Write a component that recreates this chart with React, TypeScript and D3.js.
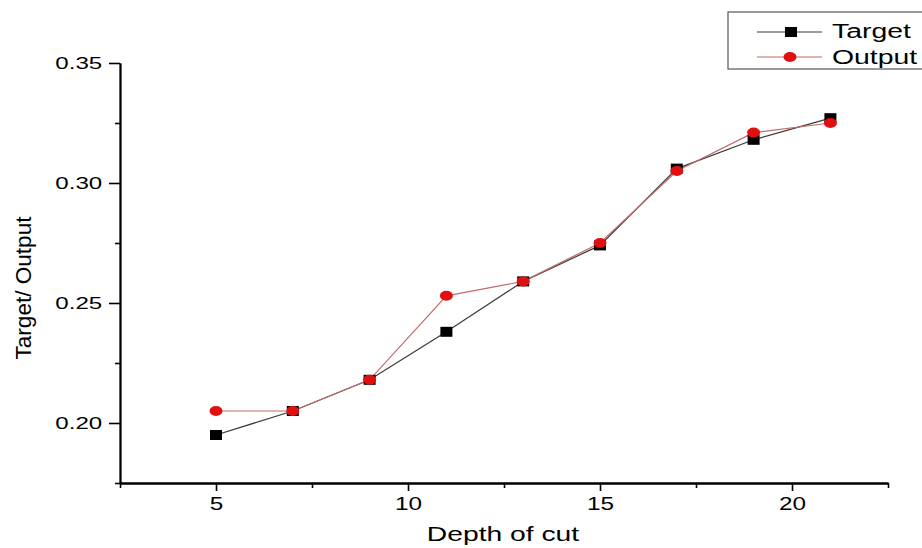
import React, { useRef, useEffect } from 'react';
import * as d3 from 'd3';

// Depth of cut values (x)
const depths = [5, 7, 9, 11, 13, 15, 17, 19, 21];
// Target and network output (y)
const targetValues = [0.195, 0.205, 0.218, 0.238, 0.259, 0.274, 0.306, 0.318, 0.327];
const outputValues = [0.205, 0.205, 0.218, 0.253, 0.259, 0.275, 0.305, 0.321, 0.325];

const xMajorTicks = [5, 10, 15, 20];
const xMinorTicks = [2.5, 7.5, 12.5, 17.5, 22.5];
const yMajorTicks = [0.2, 0.25, 0.3, 0.35];
const yMinorTicks = [0.175, 0.225, 0.275, 0.325];

const W = 922;
const H = 548;
const FONT = 'Arial, "Liberation Sans", sans-serif';

const App = () => {
  const svgRef = useRef<SVGSVGElement>(null);

  useEffect(() => {
    const svg = d3.select(svgRef.current);
    svg.selectAll('*').remove();

    const x = d3.scaleLinear().domain([2.5, 22.5]).range([120, 888]);
    const y = d3.scaleLinear().domain([0.175, 0.35]).range([483, 63]);

    // Axes - minor ticks first
    const styleAxis = (g: any) => {
      g.select('.domain').attr('stroke', '#000').attr('stroke-width', 1.8);
      g.selectAll('.tick line').attr('stroke', '#000').attr('stroke-width', 1.6);
    };

    svg.append('g')
      .attr('transform', `translate(0,${y.range()[0]})`)
      .call(d3.axisBottom(x).tickValues(xMinorTicks).tickSize(5).tickSizeOuter(0).tickFormat(() => ''))
      .call(styleAxis);

    const xAxis = svg.append('g')
      .attr('transform', `translate(0,${y.range()[0]})`)
      .call(d3.axisBottom(x).tickValues(xMajorTicks).tickSize(8).tickSizeOuter(0).tickFormat(d3.format('d')))
      .call(styleAxis);
    xAxis.selectAll('.tick text')
      .attr('font-family', FONT)
      .attr('font-size', 18)
      .attr('fill', '#000')
      .attr('y', 27)
      .attr('dy', 0)
      .attr('transform', 'scale(1.35,1)');

    svg.append('g')
      .attr('transform', `translate(${x.range()[0]},0)`)
      .call(d3.axisLeft(y).tickValues(yMinorTicks).tickSize(5).tickSizeOuter(0).tickFormat(() => ''))
      .call(styleAxis);

    const yAxis = svg.append('g')
      .attr('transform', `translate(${x.range()[0]},0)`)
      .call(d3.axisLeft(y).tickValues(yMajorTicks).tickSize(11).tickSizeOuter(0).tickFormat(d3.format('.2f')))
      .call(styleAxis);
    yAxis.selectAll('.tick text')
      .attr('font-family', FONT)
      .attr('font-size', 17)
      .attr('fill', '#000')
      .attr('x', -12.5)
      .attr('transform', 'scale(1.42,1)');

    // Axis titles
    svg.append('text')
      .attr('transform', `translate(${(x.range()[0] + x.range()[1]) / 2 - 1},541) scale(1.45,1)`)
      .attr('text-anchor', 'middle')
      .attr('font-family', FONT)
      .attr('font-size', 19.5)
      .text('Depth of cut');

    svg.append('text')
      .attr('transform', 'translate(31,288) rotate(-90)')
      .attr('text-anchor', 'middle')
      .attr('font-family', FONT)
      .attr('font-size', 22)
      .attr('textLength', 143)
      .attr('lengthAdjust', 'spacingAndGlyphs')
      .text('Target/ Output');

    // Lines
    const line = d3.line<number>()
      .x((d, i) => x(depths[i]))
      .y(d => y(d));

    svg.append('path')
      .datum(targetValues)
      .attr('fill', 'none')
      .attr('stroke', '#3a3a3a')
      .attr('stroke-width', 1.2)
      .attr('d', line);

    svg.append('path')
      .datum(outputValues)
      .attr('fill', 'none')
      .attr('stroke', '#c46a6a')
      .attr('stroke-width', 1.2)
      .attr('d', line);

    // Markers
    svg.selectAll('.target-pt')
      .data(targetValues)
      .enter()
      .append('rect')
      .attr('class', 'target-pt')
      .attr('x', (d, i) => x(depths[i]) - 6)
      .attr('y', d => y(d) - 5)
      .attr('width', 12)
      .attr('height', 10)
      .attr('fill', '#000');

    svg.selectAll('.output-pt')
      .data(outputValues)
      .enter()
      .append('ellipse')
      .attr('class', 'output-pt')
      .attr('cx', (d, i) => x(depths[i]))
      .attr('cy', d => y(d))
      .attr('rx', 6.5)
      .attr('ry', 5)
      .attr('fill', '#e01010');

    // Legend
    const legend = svg.append('g');
    legend.append('rect')
      .attr('x', 728)
      .attr('y', 12)
      .attr('width', 220)
      .attr('height', 57)
      .attr('fill', '#fff')
      .attr('stroke', '#555')
      .attr('stroke-width', 1.2);

    const items = [
      { label: 'Target', color: '#3a3a3a', cy: 32, baseline: 38 },
      { label: 'Output', color: '#c46a6a', cy: 57, baseline: 64 },
    ];
    items.forEach((it, i) => {
      legend.append('line')
        .attr('x1', 757).attr('x2', 822)
        .attr('y1', it.cy).attr('y2', it.cy)
        .attr('stroke', it.color)
        .attr('stroke-width', 1.2);
      if (i === 0) {
        legend.append('rect')
          .attr('x', 785).attr('y', it.cy - 5)
          .attr('width', 12).attr('height', 10)
          .attr('fill', '#000');
      } else {
        legend.append('ellipse')
          .attr('cx', 790).attr('cy', it.cy)
          .attr('rx', 6.5).attr('ry', 5)
          .attr('fill', '#e01010');
      }
      legend.append('text')
        .attr('transform', `translate(832,${it.baseline}) scale(1.42,1)`)
        .attr('font-family', FONT)
        .attr('font-size', 20)
        .text(it.label);
    });
  }, []);

  return (
    <div style={{ position: 'absolute', left: 0, top: 0, width: W, height: H, background: '#fff' }}>
      <svg ref={svgRef} width={W} height={H} style={{ display: 'block' }}></svg>
    </div>
  );
};

export default App;
